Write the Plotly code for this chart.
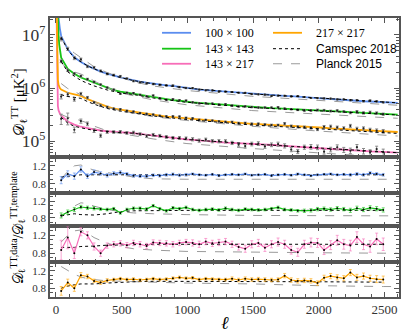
import plotly.graph_objects as go
from plotly.subplots import make_subplots

# multipole grids
ell_low = [5, 10, 15, 20, 25, 30]
ell_bins = list(range(40, 2500, 50))
ell_end = [2600]
ell_tmpl = ell_low + ell_bins + ell_end
ell_model = [40, 90, 140, 190, 240, 290, 390, 490, 590, 740, 990, 1490, 1990, 2490, 2600]

# template spectra D_ell [muK^2] on ell_tmpl
tmpl_100 = [2.0e8, 5.0e7, 3.16e7, 2.14e7, 1.58e7, 1.32e7,
            9.55e6, 5.37e6, 3.80e6, 3.09e6, 2.63e6, 2.29e6, 2.04e6, 1.86e6, 1.70e6, 1.58e6,
            1.48e6, 1.38e6, 1.32e6, 1.26e6, 1.20e6, 1.17e6, 1.12e6, 1.10e6, 1.05e6, 1.00e6,
            9.77e5, 9.33e5, 9.12e5, 8.91e5, 8.71e5, 8.51e5, 8.32e5, 8.13e5, 7.94e5, 7.76e5,
            7.59e5, 7.41e5, 7.24e5, 7.16e5, 7.08e5, 7.00e5, 6.92e5, 6.76e5, 6.61e5, 6.46e5,
            6.31e5, 6.17e5, 6.10e5, 6.03e5, 5.89e5, 5.75e5, 5.62e5, 5.56e5, 5.50e5, 5.37e5,
            5.25e5]
tmpl_143 = [1.6e8, 3.98e7, 1.78e7, 1.0e7, 6.61e6, 5.13e6,
            3.72e6, 2.29e6, 1.86e6, 1.58e6, 1.41e6, 1.26e6, 1.15e6, 1.02e6, 9.12e5, 8.51e5,
            8.13e5, 7.76e5, 7.24e5, 6.92e5, 6.61e5, 6.31e5, 6.17e5, 5.89e5, 5.75e5, 5.50e5,
            5.37e5, 5.25e5, 5.13e5, 5.01e5, 4.90e5, 4.79e5, 4.68e5, 4.57e5, 4.47e5, 4.37e5,
            4.32e5, 4.27e5, 4.17e5, 4.12e5, 4.07e5, 4.03e5, 3.98e5, 3.89e5, 3.85e5, 3.80e5,
            3.72e5, 3.67e5, 3.63e5, 3.55e5, 3.51e5, 3.47e5, 3.39e5, 3.35e5, 3.31e5, 3.24e5,
            3.16e5]
tmpl_143x217 = [2.51e7, 1.26e6, 4.57e5, 3.80e5, 3.47e5, 3.31e5,
                3.02e5, 2.34e5, 2.04e5, 1.86e5, 1.76e5, 1.66e5, 1.58e5, 1.53e5, 1.48e5, 1.46e5,
                1.45e5, 1.40e5, 1.35e5, 1.29e5, 1.26e5, 1.22e5, 1.17e5, 1.15e5, 1.11e5, 1.07e5,
                1.05e5, 1.02e5, 1.00e5, 9.77e4, 9.55e4, 9.33e4, 9.23e4, 9.12e4, 8.91e4, 8.81e4,
                8.71e4, 8.61e4, 8.51e4, 8.32e4, 8.13e4, 7.94e4, 7.76e4, 7.67e4, 7.50e4, 7.41e4,
                7.24e4, 7.08e4, 7.00e4, 6.84e4, 6.76e4, 6.61e4, 6.46e4, 6.38e4, 6.31e4, 6.17e4,
                6.03e4]
tmpl_217 = [3.98e7, 3.55e6, 1.41e6, 1.15e6, 1.05e6, 1.0e6,
            9.33e5, 8.13e5, 7.59e5, 7.08e5, 6.17e5, 5.50e5, 5.01e5, 4.47e5, 4.07e5, 3.89e5,
            3.72e5, 3.55e5, 3.39e5, 3.24e5, 3.09e5, 2.99e5, 2.88e5, 2.82e5, 2.75e5, 2.66e5,
            2.57e5, 2.51e5, 2.45e5, 2.40e5, 2.34e5, 2.29e5, 2.24e5, 2.19e5, 2.14e5, 2.11e5,
            2.09e5, 2.04e5, 2.02e5, 2.00e5, 1.95e5, 1.93e5, 1.91e5, 1.86e5, 1.82e5, 1.80e5,
            1.78e5, 1.74e5, 1.72e5, 1.70e5, 1.66e5, 1.62e5, 1.60e5, 1.58e5, 1.55e5, 1.53e5,
            1.48e5]

# data / template on ell_bins, with 1-sigma errors
ratio_100 = [0.88, 1.02, 0.97, 1.12, 0.97, 1.06, 1.03, 0.99, 1.03, 1.05,
             1.02, 0.98, 0.97, 0.97, 0.99, 0.98, 1.00, 1.01, 0.99, 1.00,
             1.02, 1.00, 0.99, 1.01, 0.98, 1.00, 1.01, 1.00, 1.02, 0.99,
             1.00, 1.01, 0.98, 1.00, 1.01, 0.99, 1.02, 1.00, 0.98, 1.00,
             1.01, 1.02, 1.00, 1.01, 1.00, 1.02, 1.00, 1.04, 1.02, 1.00]
err_100 = [0.08, 0.07, 0.07, 0.06, 0.05, 0.05, 0.04, 0.04, 0.04, 0.04,
           0.03, 0.03, 0.03, 0.03, 0.03, 0.03, 0.03, 0.03, 0.03, 0.03,
           0.02, 0.02, 0.02, 0.02, 0.02, 0.02, 0.02, 0.02, 0.02, 0.02,
           0.02, 0.02, 0.02, 0.02, 0.02, 0.02, 0.02, 0.02, 0.02, 0.02,
           0.02, 0.02, 0.02, 0.02, 0.03, 0.03, 0.03, 0.03, 0.03, 0.03]
ratio_143 = [0.86, 0.94, 1.00, 1.06, 1.04, 1.03, 1.01, 1.00, 1.02, 0.92,
             1.00, 1.03, 1.03, 1.01, 1.09, 1.02, 0.97, 1.04, 1.02, 1.05,
             1.00, 0.98, 1.00, 1.01, 0.99, 1.03, 1.00, 0.98, 1.01, 1.00,
             0.99, 1.00, 1.02, 1.05, 1.00, 0.99, 0.97, 0.97, 0.98, 1.01,
             1.02, 1.00, 1.03, 1.01, 0.98, 1.03, 1.00, 1.04, 1.02, 0.99]
err_143 = [0.06, 0.05, 0.05, 0.04, 0.04, 0.04, 0.03, 0.03, 0.03, 0.03,
           0.03, 0.03, 0.03, 0.03, 0.03, 0.03, 0.03, 0.03, 0.03, 0.03,
           0.03, 0.03, 0.03, 0.03, 0.03, 0.03, 0.03, 0.03, 0.03, 0.03,
           0.03, 0.03, 0.03, 0.03, 0.03, 0.03, 0.03, 0.04, 0.04, 0.04,
           0.04, 0.04, 0.04, 0.04, 0.05, 0.05, 0.05, 0.05, 0.05, 0.05]
ratio_143x217 = [0.87, 1.15, 0.80, 1.28, 1.20, 0.95, 0.80, 0.97, 1.00, 1.02,
                 0.98, 1.03, 1.00, 0.96, 1.04, 1.03, 1.02, 1.00, 1.03, 1.05,
                 1.03, 1.00, 1.06, 1.02, 1.04, 1.06, 1.00, 0.94, 0.90, 1.00,
                 1.03, 0.92, 1.00, 1.05, 1.00, 0.87, 0.82, 1.00, 1.04, 1.03,
                 0.87, 0.98, 1.09, 1.00, 0.97, 1.16, 1.00, 0.95, 1.12, 1.00]
err_143x217 = [0.22, 0.25, 0.12, 0.09, 0.08, 0.08, 0.07, 0.06, 0.06, 0.06,
               0.06, 0.06, 0.06, 0.06, 0.06, 0.06, 0.06, 0.06, 0.06, 0.06,
               0.07, 0.07, 0.07, 0.07, 0.07, 0.07, 0.07, 0.07, 0.08, 0.08,
               0.08, 0.08, 0.08, 0.09, 0.09, 0.09, 0.09, 0.09, 0.10, 0.10,
               0.10, 0.10, 0.11, 0.11, 0.12, 0.12, 0.12, 0.13, 0.13, 0.14]
ratio_217 = [0.74, 0.93, 0.80, 1.10, 1.07, 0.97, 0.93, 0.98, 1.00, 1.02,
             1.00, 1.01, 0.99, 1.00, 1.02, 1.00, 1.01, 1.03, 1.05, 1.03,
             1.04, 1.00, 1.02, 1.01, 1.00, 1.00, 1.02, 0.99, 1.02, 1.00,
             1.01, 1.00, 0.99, 1.00, 1.09, 0.99, 0.97, 0.98, 0.97, 0.92,
             1.04, 1.08, 1.05, 1.03, 1.16, 1.05, 1.08, 1.03, 1.01, 1.00]
err_217 = [0.10, 0.08, 0.07, 0.06, 0.05, 0.04, 0.04, 0.04, 0.03, 0.03,
           0.03, 0.03, 0.03, 0.03, 0.03, 0.03, 0.03, 0.03, 0.03, 0.03,
           0.03, 0.03, 0.03, 0.03, 0.03, 0.03, 0.04, 0.04, 0.04, 0.04,
           0.04, 0.04, 0.04, 0.04, 0.05, 0.05, 0.05, 0.05, 0.05, 0.05,
           0.06, 0.06, 0.06, 0.06, 0.07, 0.07, 0.07, 0.07, 0.08, 0.08]

# model / template on ell_model
planck_100 = [0.90, 1.08, 1.20, 1.22, 1.16, 1.10, 1.05, 1.00, 0.95, 0.91, 0.90, 0.90, 0.90, 0.90, 0.90]
camspec_100 = [0.95, 0.97, 0.98, 1.00, 1.00, 1.00, 1.00, 1.00, 1.00, 1.00, 1.00, 1.00, 1.00, 1.00, 1.00]
planck_143 = [0.82, 0.95, 1.08, 1.16, 1.14, 1.08, 1.00, 0.95, 0.92, 0.90, 0.88, 0.86, 0.85, 0.85, 0.85]
camspec_143 = [0.85, 0.88, 0.90, 0.88, 0.87, 0.87, 0.90, 0.95, 0.97, 0.98, 0.98, 0.98, 0.98, 0.98, 0.98]
planck_143x217 = [1.05, 1.20, 1.30, 1.32, 1.25, 1.15, 1.02, 0.95, 0.90, 0.87, 0.84, 0.82, 0.81, 0.80, 0.80]
camspec_143x217 = [0.93, 0.93, 0.93, 0.95, 0.95, 0.96, 0.98, 0.99, 1.00, 1.00, 1.00, 1.00, 1.00, 1.00, 1.00]
planck_217 = [1.30, 1.20, 1.12, 1.06, 1.02, 1.00, 0.97, 0.96, 0.95, 0.93, 0.92, 0.90, 0.86, 0.84, 0.84]
camspec_217 = [0.80, 0.85, 0.88, 0.90, 0.90, 0.90, 0.92, 0.94, 0.95, 0.96, 0.96, 0.95, 0.95, 0.94, 0.94]

spectra = [
    ("100 × 100", "#5b8def", "rgba(91,141,239,0.6)", tmpl_100, ratio_100, err_100, planck_100, camspec_100),
    ("143 × 143", "#16c416", "rgba(22,196,22,0.6)", tmpl_143, ratio_143, err_143, planck_143, camspec_143),
    ("143 × 217", "#f76db8", "rgba(247,109,184,0.6)", tmpl_143x217, ratio_143x217, err_143x217, planck_143x217, camspec_143x217),
    ("217 × 217", "#ffa500", "rgba(255,165,0,0.6)", tmpl_217, ratio_217, err_217, planck_217, camspec_217),
]

fig = make_subplots(rows=5, cols=1, shared_xaxes=True, vertical_spacing=0)

for i, (name, col, col_err, tmpl, ratio, err, planck, camspec) in enumerate(spectra):
    t = dict(zip(ell_tmpl, tmpl))
    data = [t[l] * r for l, r in zip(ell_bins, ratio)]
    data_err = [d * e for d, e in zip(data, err)]
    planck_top = [t[l] * p for l, p in zip(ell_model, planck)]
    camspec_top = [t[l] * c for l, c in zip(ell_model, camspec)]

    # top panel
    fig.add_trace(go.Scatter(x=ell_tmpl, y=tmpl, mode="lines", line=dict(color=col, width=1.8)), row=1, col=1)
    fig.add_trace(go.Scatter(x=ell_model, y=planck_top, mode="lines",
                             line=dict(color="#9a9a9a", width=1, dash="dash")), row=1, col=1)
    fig.add_trace(go.Scatter(x=ell_bins, y=data, mode="markers",
                             marker=dict(color="#222222", size=2.2),
                             error_y=dict(type="data", array=data_err, color="#8a8a8a", thickness=1, width=1.5)),
                  row=1, col=1)
    fig.add_trace(go.Scatter(x=ell_model, y=camspec_top, mode="lines",
                             line=dict(color="black", width=1, dash="dot")), row=1, col=1)

    # ratio panel
    r = i + 2
    fig.add_hline(y=1, line=dict(color="black", width=1.2), row=r, col=1)
    fig.add_trace(go.Scatter(x=ell_model, y=planck, mode="lines",
                             line=dict(color="#9a9a9a", width=1, dash="dash")), row=r, col=1)
    fig.add_trace(go.Scatter(x=ell_model[:-1], y=camspec[:-1], mode="lines",
                             line=dict(color="black", width=1, dash="dot")), row=r, col=1)
    fig.add_trace(go.Scatter(x=ell_bins, y=ratio, mode="lines+markers",
                             line=dict(color=col, width=1.2),
                             marker=dict(color="black", size=2),
                             error_y=dict(type="data", array=err, color=col_err, thickness=1, width=1.5)),
                  row=r, col=1)

axis_style = dict(showline=True, linecolor="#555555", linewidth=1.5, mirror="allticks",
                  ticks="inside", ticklen=5, tickcolor="#555555", tickwidth=1,
                  showgrid=False, zeroline=False)

domains = [[0.502, 1.0], [0.374, 0.502], [0.253, 0.374], [0.125, 0.253], [0.0, 0.125]]
for k in range(1, 6):
    fig.update_xaxes(axis_style, range=[-45, 2610], tick0=0, dtick=500,
                     minor=dict(ticks="inside", dtick=100, ticklen=3, tickcolor="#555555"),
                     showticklabels=(k == 5),
                     tickfont=dict(family="Liberation Serif", size=13, color="#333333"),
                     row=k, col=1)
    ax = "yaxis" if k == 1 else "yaxis%d" % k
    fig.layout[ax].domain = domains[k - 1]

fig.update_yaxes(axis_style, type="log", range=[4.70, 7.32], dtick=1, exponentformat="power",
                 minor=dict(ticks="inside", ticklen=3, dtick="D1", tickcolor="#555555"),
                 tickfont=dict(family="Liberation Serif", size=14, color="#333333"), row=1, col=1)
for k in range(2, 6):
    fig.update_yaxes(axis_style, range=[0.6, 1.4], tickvals=[0.8, 1.2], ticktext=["0.8", "1.2"],
                     minor=dict(ticks="inside", ticklen=3, tickvals=[0.7, 0.9, 1.0, 1.1, 1.3], tickcolor="#555555"),
                     tickfont=dict(family="Liberation Serif", size=11, color="#333333"), row=k, col=1)

# hand drawn legend, two columns
legend_rows = [0.947, 0.890, 0.836]
legend_items = [
    (0.321, 0.404, 0.438, legend_rows[0], "#5b8def", "solid", "100 × 100", "Liberation Serif"),
    (0.321, 0.404, 0.438, legend_rows[1], "#16c416", "solid", "143 × 143", "Liberation Serif"),
    (0.321, 0.404, 0.438, legend_rows[2], "#f76db8", "solid", "143 × 217", "Liberation Serif"),
    (0.639, 0.722, 0.756, legend_rows[0], "#ffa500", "solid", "217 × 217", "Liberation Serif"),
    (0.639, 0.722, 0.756, legend_rows[1], "black", "dot", "Camspec 2018", "Liberation Sans"),
    (0.639, 0.722, 0.756, legend_rows[2], "#9a9a9a", "dash", "Planck 2015", "Liberation Sans"),
]
for x0, x1, xt, y, c, d, txt, fam in legend_items:
    w = 1.8 if d == "solid" else 1
    fig.add_shape(type="line", xref="paper", yref="paper", x0=x0, x1=x1, y0=y, y1=y,
                  line=dict(color=c, width=w, dash=d))
    fig.add_annotation(xref="paper", yref="paper", x=xt, y=y, text=txt, showarrow=False,
                       xanchor="left", yanchor="middle", font=dict(family=fam, size=12, color="black"))

fig.add_annotation(xref="paper", yref="paper", x=-0.091, y=0.70, textangle=-90, showarrow=False,
                   xanchor="center", yanchor="middle",
                   text="𝒟<sub>ℓ</sub><sup>TT</sup> [μK<sup>2</sup>]",
                   font=dict(family="Liberation Serif", size=15, color="black"))
fig.add_annotation(xref="paper", yref="paper", x=-0.092, y=0.25, textangle=-90, showarrow=False,
                   xanchor="center", yanchor="middle",
                   text="𝒟<sub>ℓ</sub><sup>TT,data</sup>/𝒟<sub>ℓ</sub><sup>TT,template</sup>",
                   font=dict(family="Liberation Serif", size=14, color="black"))
fig.add_annotation(xref="paper", yref="paper", x=0.50, y=-0.093, showarrow=False,
                   xanchor="center", yanchor="middle",
                   text="<i>ℓ</i>", font=dict(family="Liberation Serif", size=18, color="black"))

# page body has an 8px margin, so the figure is shrunk and shifted to fit the window
fig.update_layout(width=408, height=326, margin=dict(l=42, r=17, t=8, b=37),
                  plot_bgcolor="white", paper_bgcolor="white", showlegend=False)

fig.write_html("out.html")
